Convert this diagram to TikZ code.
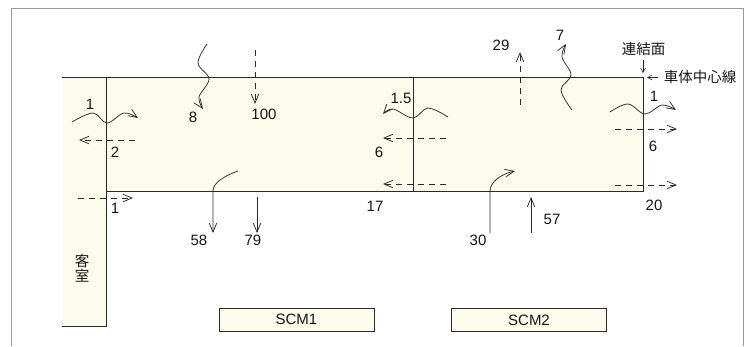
\documentclass[tikz,border=0pt]{standalone}
\usepackage{fontspec}
\setmainfont{Liberation Sans}
\newfontfamily\jfont{Noto Sans CJK JP}
\usetikzlibrary{arrows.meta}
\definecolor{cream}{HTML}{FDFBEC}
\definecolor{framegray}{HTML}{9A9A9A}
\definecolor{ink}{HTML}{2A2A2A}
\definecolor{txt}{HTML}{151515}
\begin{document}
\begin{tikzpicture}[x=1pt,y=-1pt,
  lbl/.style={font=\fontsize{15}{15}\selectfont, text=txt, inner sep=0pt},
  jlbl/.style={font=\jfont\fontsize{14.5}{15}\selectfont, text=txt, inner sep=0pt, align=center},
  edge/.style={draw=ink, line width=0.8pt},
  arr/.style={draw=ink, line width=0.75pt, -{Straight Barb[length=9pt,width=7.5pt]}},
  sarr/.style={draw=ink, line width=0.6pt, -{Straight Barb[length=4.5pt,width=5pt]}},
  darr/.style={arr, dash pattern=on 6pt off 5pt},
  scmbox/.style={draw=ink, fill=cream, line width=0.8pt, minimum width=155pt, minimum height=23pt, inner sep=0pt, font=\fontsize{15}{15}\selectfont, text=txt}
]
\useasboundingbox (0,0) rectangle (748,346);
% outer frame (open at the bottom)
\draw[framegray, line width=1pt] (11,346) -- (11,8) -- (743,8) -- (743,346);
% fills
\fill[cream] (62,77) rectangle (106,326);
\fill[cream] (106,77) rectangle (643,191);
% body lines
\draw[edge] (62,77) -- (643,77) -- (643,191) -- (106,191);
\draw[edge] (106,77) -- (106,326) -- (62,326);
\draw[edge] (413,77) -- (413,191);

% passenger room
\node[jlbl] (kyaku) at (82,268) {客\\室};

% SCM boxes
\node[scmbox] (scm1) at (296.5,319.5) {SCM1};
\node[scmbox] (scm2) at (529,320) {SCM2};

% labels
\node[lbl] (l1a) at (90,104) {1};
\node[lbl] (l2) at (115,152) {2};
\node[lbl] (l8) at (193,117) {8};
\node[lbl] (l100) at (264,114) {100};
\node[lbl] (l1b) at (115,208) {1};
\node[lbl] (l58) at (199,240) {58};
\node[lbl] (l79) at (253,240) {79};
\node[lbl] (l17) at (375,206) {17};
\node[lbl] (l6a) at (379,152) {6};
\node[lbl] (l15) at (401,98) {1.5};
\node[lbl] (l29) at (501,45.5) {29};
\node[lbl] (l7) at (560,35) {7};
\node[lbl] (l1c) at (654,96) {1};
\node[lbl] (l6b) at (653,146) {6};
\node[lbl] (l20) at (654,205) {20};
\node[lbl] (l30) at (478,240) {30};
\node[lbl] (l57) at (552,219) {57};
\node[jlbl] (renketsu) at (643.5,49) {連結面};
\node[jlbl] (chushin) at (700,77.5) {車体中心線};

% small pointer arrows
\coordinate (rA) at (643,60); \coordinate (rB) at (643,73);
\draw[sarr] (rA) -- (rB);
\coordinate (cA) at (658,77.5); \coordinate (cB) at (647,77.5);
\draw[sarr] (cA) -- (cB);

% wavy (radiation) arrows
\draw[arr] plot[smooth, tension=0.6] coordinates {(72,122) (93,113) (107,123) (124,113) (138,118)};
\draw[arr] plot[smooth, tension=0.6] coordinates {(207,44) (198,63) (209,79) (199,97) (203,109)};
\draw[arr] plot[smooth, tension=0.6] coordinates {(448,117) (428,108) (413,118) (393,109) (383,114)};
\draw[arr] plot[smooth, tension=0.6] coordinates {(572,110) (561,90) (571,75) (562,57) (566,44)};
\draw[arr] plot[smooth, tension=0.6] coordinates {(610,112) (628,104) (645,114) (662,105) (676,110)};

% dashed (convection) arrows
\coordinate (d1s) at (135,140); \coordinate (d1e) at (79,140);
\draw[darr] (d1s) -- (d1e);
\coordinate (d2s) at (78,198); \coordinate (d2e) at (133,198);
\draw[darr] (d2s) -- (d2e);
\coordinate (d3s) at (255,50); \coordinate (d3e) at (255,104);
\draw[darr] (d3s) -- (d3e);
\coordinate (d4s) at (446,138); \coordinate (d4e) at (383,138);
\draw[darr] (d4s) -- (d4e);
\coordinate (d5s) at (446,184); \coordinate (d5e) at (383,184);
\draw[darr] (d5s) -- (d5e);
\coordinate (d6s) at (520,105); \coordinate (d6e) at (520,52);
\draw[darr] (d6s) -- (d6e);
\coordinate (d7s) at (615,129); \coordinate (d7e) at (677,129);
\draw[darr] (d7s) -- (d7e);
\coordinate (d8s) at (615,185); \coordinate (d8e) at (677,185);
\draw[darr] (d8s) -- (d8e);

% solid arrows
\coordinate (s58a) at (238,171); \coordinate (s58b) at (213,191); \coordinate (s58c) at (213,233);
\draw[arr] (s58a) .. controls (224,176) and (213,183) .. (s58b) -- (s58c);
\coordinate (s79a) at (257,197); \coordinate (s79b) at (257,233);
\draw[arr] (s79a) -- (s79b);
\coordinate (s30a) at (490,233); \coordinate (s30b) at (490,191); \coordinate (s30c) at (515,171);
\draw[arr] (s30a) -- (s30b) .. controls (490,182) and (501,174) .. (s30c);
\coordinate (s57a) at (531,233); \coordinate (s57b) at (531,197);
\draw[arr] (s57a) -- (s57b);
\end{tikzpicture}
\end{document}
